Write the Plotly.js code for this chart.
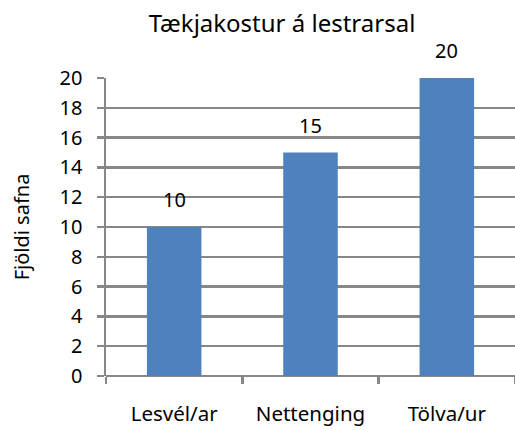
<!DOCTYPE html>
<html>
<head>
<meta charset="utf-8">
<script src="https://cdn.plot.ly/plotly-3.0.1.min.js"></script>
<style>html,body{margin:0;padding:0;background:#fff;}#chart{width:515px;height:430px;}</style>
</head>
<body>
<div id="chart"></div>
<script>
const categories = ["Lesvél/ar", "Nettenging", "Tölva/ur"];
const values = [10, 15, 20];
const yTicks = [0, 2, 4, 6, 8, 10, 12, 14, 16, 18, 20];
const titleText = "Tækjakostur á lestrarsal";
const yTitleText = "Fjöldi safna";

const FONT = "'Noto Sans', 'Open Sans', sans-serif";
const GRID = "#878787";

const trace = {
  type: "bar",
  x: categories,
  y: values,
  marker: {color: "#4F81BD"},
  hoverinfo: "none"
};

const annotations = categories.map((c, i) => ({
  x: c, y: values[i], xref: "x", yref: "y",
  text: String(values[i]), showarrow: false,
  yanchor: "bottom", yshift: 12,
  font: {family: FONT, size: 20, color: "#000"}
}));

const layout = {
  width: 515, height: 430,
  margin: {l: 106, r: 0, t: 78, b: 54},
  paper_bgcolor: "#fff", plot_bgcolor: "#fff",
  bargap: 0.6,
  showlegend: false,
  title: {text: titleText, x: 282/515, xref: "container", xanchor: "center", y: 0.945, yanchor: "middle",
          font: {family: FONT, size: 24, color: "#000"}},
  xaxis: {
    type: "category", range: [-0.5, 2.5],
    showline: false, showgrid: false, zeroline: false,
    tickson: "boundaries", ticks: "outside", ticklen: 7, tickwidth: 2.5, tickcolor: GRID,
    ticklabelstandoff: 23,
    tickfont: {family: FONT, size: 20.5, color: "#000"}
  },
  yaxis: {
    range: [0, 20], tickvals: yTicks, ticktext: yTicks.map(String),
    showline: true, linecolor: GRID, linewidth: 2.5,
    showgrid: true, gridcolor: GRID, gridwidth: 2.5,
    zeroline: true, zerolinecolor: GRID, zerolinewidth: 2.5,
    ticks: "outside", ticklen: 7, tickwidth: 2.5, tickcolor: GRID,
    ticklabelstandoff: 10,
    tickfont: {family: FONT, size: 20, color: "#000"},
    title: {text: yTitleText, standoff: 25, font: {family: FONT, size: 20, color: "#000"}},
    automargin: false
  },
  annotations: annotations
};

Plotly.newPlot("chart", [trace], layout, {displayModeBar: false, staticPlot: true});
</script>
</body>
</html>
